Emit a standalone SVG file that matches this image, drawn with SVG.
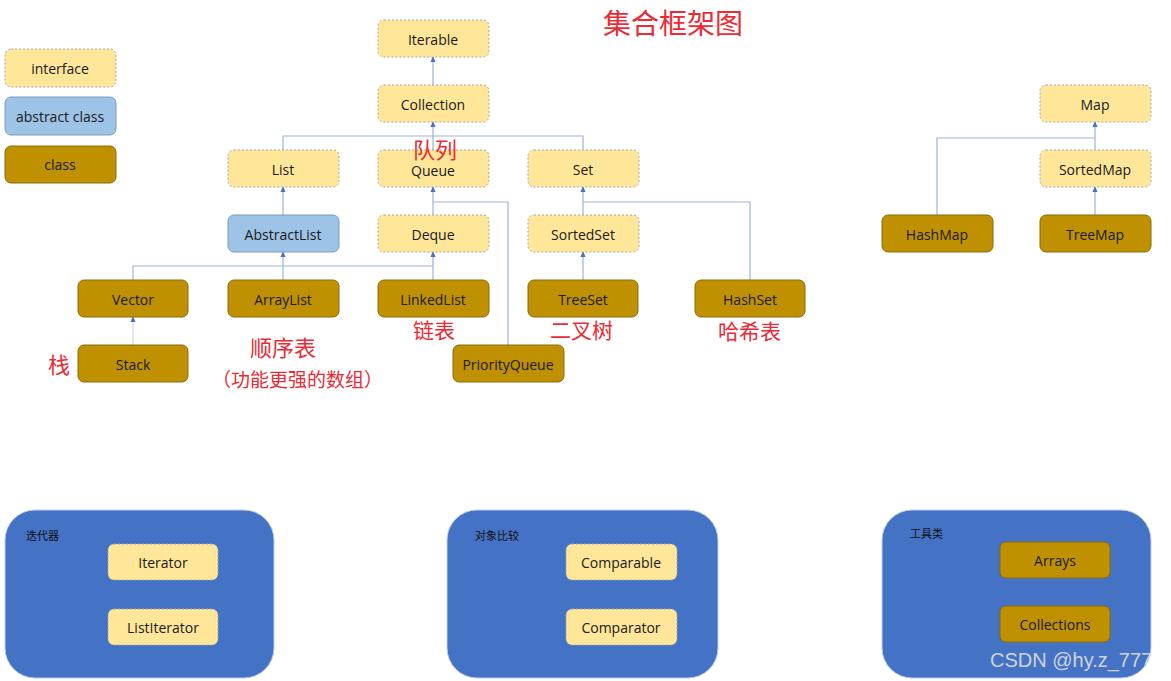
<svg xmlns="http://www.w3.org/2000/svg" width="1171" height="681" viewBox="0 0 1171 681">
<style>
.i{fill:#FFE699;stroke:#a6a6a6;stroke-width:1;stroke-dasharray:2 2}
.a{fill:#9DC3E6;stroke:#7a9cc0;stroke-width:1}
.c{fill:#BF9000;stroke:#8c6a0a;stroke-width:1}
.t{font-family:"Open Sans","Liberation Sans",sans-serif;font-size:14px;fill:#1a1a1a;text-anchor:middle;dominant-baseline:central}
.r{font-family:"Noto Sans CJK SC","Noto Sans CJK JP",sans-serif;fill:#ee2a35;font-weight:normal}
.p{fill:#4472C4;stroke:#c0cde6;stroke-width:1}
.pl{font-family:"Noto Sans CJK SC",sans-serif;font-size:11px;fill:#111}
.e{fill:none;stroke:#9db3dc;stroke-width:1.2}
</style>
<defs>
<marker id="ar" viewBox="0 0 6 6" refX="5" refY="3" markerWidth="5" markerHeight="5" orient="auto"><path d="M0,0.5 L6,3 L0,5.5 z" fill="#4472C4"/></marker>
</defs>
<rect width="1171" height="681" fill="#fff"/>
<g id="legend">
<rect class="i" x="5" y="49" width="111" height="38" rx="6"/><text class="t" x="60" y="68">interface</text>
<rect class="a" x="5" y="97" width="111" height="38" rx="6"/><text class="t" x="60" y="116">abstract class</text>
<rect class="c" x="5" y="146" width="111" height="37" rx="6"/><text class="t" x="60" y="164">class</text>
</g>
<g id="connectors">
<path class="e" d="M433,85 V57" marker-end="url(#ar)"/>
<path class="e" d="M283,150 V136 H583 V150"/>
<path class="e" d="M433,150 V122" marker-end="url(#ar)"/>
<path class="e" d="M283,215 V187" marker-end="url(#ar)"/>
<path class="e" d="M433,215 V187" marker-end="url(#ar)"/>
<path class="e" d="M508,345 V202 H433"/>
<path class="e" d="M583,215 V187" marker-end="url(#ar)"/>
<path class="e" d="M750,280 V202 H583"/>
<path class="e" d="M133,280 V266 H433"/>
<path class="e" d="M283,280 V252" marker-end="url(#ar)"/>
<path class="e" d="M433,280 V252" marker-end="url(#ar)"/>
<path class="e" d="M133,345 V317" stroke-opacity="0.5" marker-end="url(#ar)"/>
<path class="e" d="M583,280 V252" marker-end="url(#ar)"/>
<path class="e" d="M1095,150 V122" marker-end="url(#ar)"/>
<path class="e" d="M937,215 V138 H1095"/>
<path class="e" d="M1095,215 V187" marker-end="url(#ar)"/>
</g>
<g id="Iterable"><rect class="i" x="378" y="20" width="111" height="37" rx="6"/><text class="t" x="433" y="39">Iterable</text></g>
<g id="Collection"><rect class="i" x="378" y="85" width="111" height="37" rx="6"/><text class="t" x="433" y="104">Collection</text></g>
<g id="List"><rect class="i" x="228" y="150" width="111" height="37" rx="6"/><text class="t" x="283" y="169">List</text></g>
<g id="Queue"><rect class="i" x="378" y="150" width="111" height="37" rx="6"/><text class="t" x="433" y="170">Queue</text></g>
<g id="Set"><rect class="i" x="528" y="150" width="111" height="37" rx="6"/><text class="t" x="583" y="169">Set</text></g>
<g id="AbstractList"><rect class="a" x="228" y="215" width="111" height="37" rx="6"/><text class="t" x="283" y="234">AbstractList</text></g>
<g id="Deque"><rect class="i" x="378" y="215" width="111" height="37" rx="6"/><text class="t" x="433" y="234">Deque</text></g>
<g id="SortedSet"><rect class="i" x="528" y="215" width="111" height="37" rx="6"/><text class="t" x="583" y="234">SortedSet</text></g>
<g id="Vector"><rect class="c" x="78" y="280" width="110" height="37" rx="6"/><text class="t" x="133" y="299">Vector</text></g>
<g id="ArrayList"><rect class="c" x="228" y="280" width="111" height="37" rx="6"/><text class="t" x="283" y="299">ArrayList</text></g>
<g id="LinkedList"><rect class="c" x="378" y="280" width="111" height="37" rx="6"/><text class="t" x="433" y="299">LinkedList</text></g>
<g id="TreeSet"><rect class="c" x="528" y="280" width="110" height="37" rx="6"/><text class="t" x="583" y="299">TreeSet</text></g>
<g id="HashSet"><rect class="c" x="695" y="280" width="110" height="37" rx="6"/><text class="t" x="750" y="299">HashSet</text></g>
<g id="Stack"><rect class="c" x="78" y="345" width="110" height="37" rx="6"/><text class="t" x="133" y="364">Stack</text></g>
<g id="PriorityQueue"><rect class="c" x="453" y="345" width="111" height="37" rx="6"/><text class="t" x="508" y="364">PriorityQueue</text></g>
<g id="Map"><rect class="i" x="1040" y="85" width="111" height="37" rx="6"/><text class="t" x="1095" y="104">Map</text></g>
<g id="SortedMap"><rect class="i" x="1040" y="150" width="111" height="37" rx="6"/><text class="t" x="1095" y="169">SortedMap</text></g>
<g id="HashMap"><rect class="c" x="882" y="215" width="111" height="37" rx="6"/><text class="t" x="937" y="234">HashMap</text></g>
<g id="TreeMap"><rect class="c" x="1040" y="215" width="111" height="37" rx="6"/><text class="t" x="1095" y="234">TreeMap</text></g>
<g id="labels">
<text class="r" x="603" y="34" font-size="28">集合框架图</text>
<text class="r" x="413" y="158" font-size="22">队列</text>
<text class="r" x="48" y="373" font-size="22">栈</text>
<text class="r" x="250" y="356" font-size="22">顺序表</text>
<text class="r" x="212" y="387" font-size="19">（功能更强的数组）</text>
<text class="r" x="413" y="338" font-size="21">链表</text>
<text class="r" x="550" y="338" font-size="21">二叉树</text>
<text class="r" x="718" y="339" font-size="21">哈希表</text>
</g>
<g id="iter-panel">
<rect class="p" x="5" y="510" width="269" height="168" rx="30"/>
<text class="pl" x="26" y="540">迭代器</text>
<rect class="i" x="108" y="544" width="110" height="36" rx="6"/><text class="t" x="163" y="562">Iterator</text>
<rect class="i" x="108" y="609" width="110" height="36" rx="6"/><text class="t" x="163" y="627">ListIterator</text>
</g>
<g id="cmp-panel">
<rect class="p" x="447" y="510" width="271" height="168" rx="30"/>
<text class="pl" x="475" y="540">对象比较</text>
<rect class="i" x="566" y="544" width="111" height="36" rx="6"/><text class="t" x="621" y="562">Comparable</text>
<rect class="i" x="566" y="609" width="111" height="36" rx="6"/><text class="t" x="621" y="627">Comparator</text>
</g>
<g id="util-panel">
<rect class="p" x="882" y="510" width="269" height="168" rx="30"/>
<text class="pl" x="910" y="538">工具类</text>
<rect class="c" x="1000" y="542" width="110" height="36" rx="6"/><text class="t" x="1055" y="560">Arrays</text>
<rect class="c" x="1000" y="606" width="110" height="36" rx="6"/><text class="t" x="1055" y="624">Collections</text>
</g>
<text x="990" y="667" font-family="Liberation Sans,Arial,sans-serif" font-size="20" fill="#e0e0e0" fill-opacity="0.9">CSDN @hy.z_777</text>
</svg>
